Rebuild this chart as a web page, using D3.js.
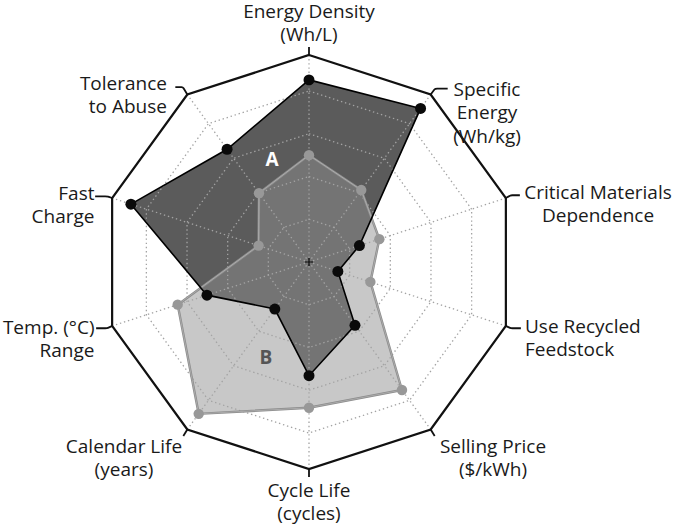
<!DOCTYPE html>
<html><head><meta charset="utf-8">
<script src="https://cdn.jsdelivr.net/npm/d3@7"></script>
<style>body{margin:0;background:#fff}svg{display:block}text{font-family:"Open Sans",sans-serif}</style>
</head><body>
<svg id="c" width="677" height="529"></svg>
<script>
const axes = [
  ["Energy Density","(Wh/L)"],
  ["Specific","Energy","(Wh/kg)"],
  ["Critical Materials","Dependence"],
  ["Use Recycled","Feedstock"],
  ["Selling Price","($/kWh)"],
  ["Cycle Life","(cycles)"],
  ["Calendar Life","(years)"],
  ["Temp. (°C)","Range"],
  ["Fast","Charge"],
  ["Tolerance","to Abuse"]
];
const seriesA = [4.26, 4.44, 1.24, 0.71, 1.83, 2.66, 1.36, 2.51, 4.38, 3.26];
const seriesB = [2.50, 2.08, 1.73, 1.51, 3.70, 3.41, 4.39, 3.23, 1.24, 1.99];
const ringLevels = [1, 2, 3, 4];
const seriesNames = ["A", "B"];

const svg = d3.select("#c");
const cx = 309, cy = 262, rOuter = 207;
const n = axes.length;
const r = d3.scaleLinear().domain([0, 4]).range([0, 171]);
const ang = d3.scaleLinear().domain([0, n]).range([0, 2 * Math.PI]);
const pt = (i, rad) => [cx + rad * Math.sin(ang(i)), cy - rad * Math.cos(ang(i))];
const line = d3.line().curve(d3.curveLinearClosed);
const poly = rad => line(d3.range(n).map(i => pt(i, rad)));

// fills
svg.append("path").attr("d", line(seriesA.map((v, i) => pt(i, r(v)))))
  .attr("fill", "#5b5b5b");
svg.append("path").attr("d", line(seriesB.map((v, i) => pt(i, r(v)))))
  .attr("fill", "#8f8f8f").attr("fill-opacity", 0.49);

// grid
const g = svg.append("g").attr("fill", "none").attr("stroke", "#a3a3a3")
  .attr("stroke-width", 1.3).attr("stroke-dasharray", "1.4,2.8");
ringLevels.forEach(l => g.append("path").attr("d", poly(r(l))));
d3.range(n).forEach(i => {
  const p = pt(i, rOuter);
  g.append("line").attr("x1", cx).attr("y1", cy).attr("x2", p[0]).attr("y2", p[1]);
});

// outer frame
svg.append("path").attr("d", poly(rOuter)).attr("fill", "none")
  .attr("stroke", "#111").attr("stroke-width", 2.2).attr("stroke-linejoin", "miter");

// B outline
const bPath = line(seriesB.map((v, i) => pt(i, r(v))));
svg.append("path").attr("d", bPath).attr("fill", "none").attr("stroke", "#8c8c8c").attr("stroke-width", 2.4);
svg.append("path").attr("d", bPath).attr("fill", "none").attr("stroke", "#b8b8b8").attr("stroke-width", 0.7);
// A outline
svg.append("path").attr("d", line(seriesA.map((v, i) => pt(i, r(v)))))
  .attr("fill", "none").attr("stroke", "#000").attr("stroke-width", 1.6);

// dots
seriesB.forEach((v, i) => {
  const p = pt(i, r(v));
  svg.append("circle").attr("cx", p[0]).attr("cy", p[1]).attr("r", 5.2).attr("fill", "#989898");
});
seriesA.forEach((v, i) => {
  const p = pt(i, r(v));
  svg.append("circle").attr("cx", p[0]).attr("cy", p[1]).attr("r", 5.5).attr("fill", "#0a0a0a");
});

// center marker
svg.append("path").attr("d", `M${cx-4},${cy}L${cx+4},${cy}M${cx},${cy-4}L${cx},${cy+4}`)
  .attr("stroke", "#000").attr("stroke-width", 1.2);

// series labels
svg.append("text").attr("x", 272).attr("y", 166).attr("text-anchor", "middle")
  .attr("font-size", 19).attr("font-weight", 700).attr("fill", "#fff").text(seriesNames[0]);
svg.append("text").attr("x", 266).attr("y", 364).attr("text-anchor", "middle")
  .attr("font-size", 19).attr("font-weight", 700).attr("fill", "#555").text(seriesNames[1]);

// leaders and axis labels
const labelCfg = [
  {lead: [[0,0],[0,-8]], x: 309, y: 18, anchor: "middle"},
  {lead: [[0,0],[4.5,-6],[17,-6]], x: 487, y: 96, anchor: "middle"},
  {lead: [[0,0],[5,-2.8],[14,-2.8]], x: 598, y: 199, anchor: "middle"},
  {lead: [[0,0],[5,2.3],[15,2.3]], x: 525, y: 333, anchor: "start"},
  {lead: [[0,0],[4,6.5]], x: 493, y: 453, anchor: "middle"},
  {lead: [[0,0],[0,8]], x: 309, y: 497, anchor: "middle"},
  {lead: [[0,0],[-4,6.5]], x: 124, y: 453, anchor: "middle"},
  {lead: [[0,0],[-5,2.3],[-16,2.3]], x: 94.5, y: 334, anchor: "end"},
  {lead: [[0,0],[-5,-1.7],[-17,-1.7]], x: 94.5, y: 200, anchor: "end"},
  {lead: [[0,0],[-4.5,-7.5],[-12,-7.5]], x: 167, y: 90, anchor: "end"}
];
axes.forEach((lines, i) => {
  const c = labelCfg[i];
  const v = pt(i, rOuter);
  const pts = c.lead.map(d => [v[0] + d[0], v[1] + d[1]]);
  svg.append("path").attr("d", d3.line().curve(d3.curveBasis)(pts.length === 3 ? [pts[0], pts[1], pts[1], pts[2]] : pts))
    .attr("fill", "none").attr("stroke", "#111").attr("stroke-width", 1.8);
  const t = svg.append("text").attr("text-anchor", c.anchor).attr("font-size", 19).attr("fill", "#1a1a1a");
  lines.forEach((s, k) => t.append("tspan").attr("x", c.x).attr("y", c.y + k * 23.3).text(s));
});
</script>
</body></html>
